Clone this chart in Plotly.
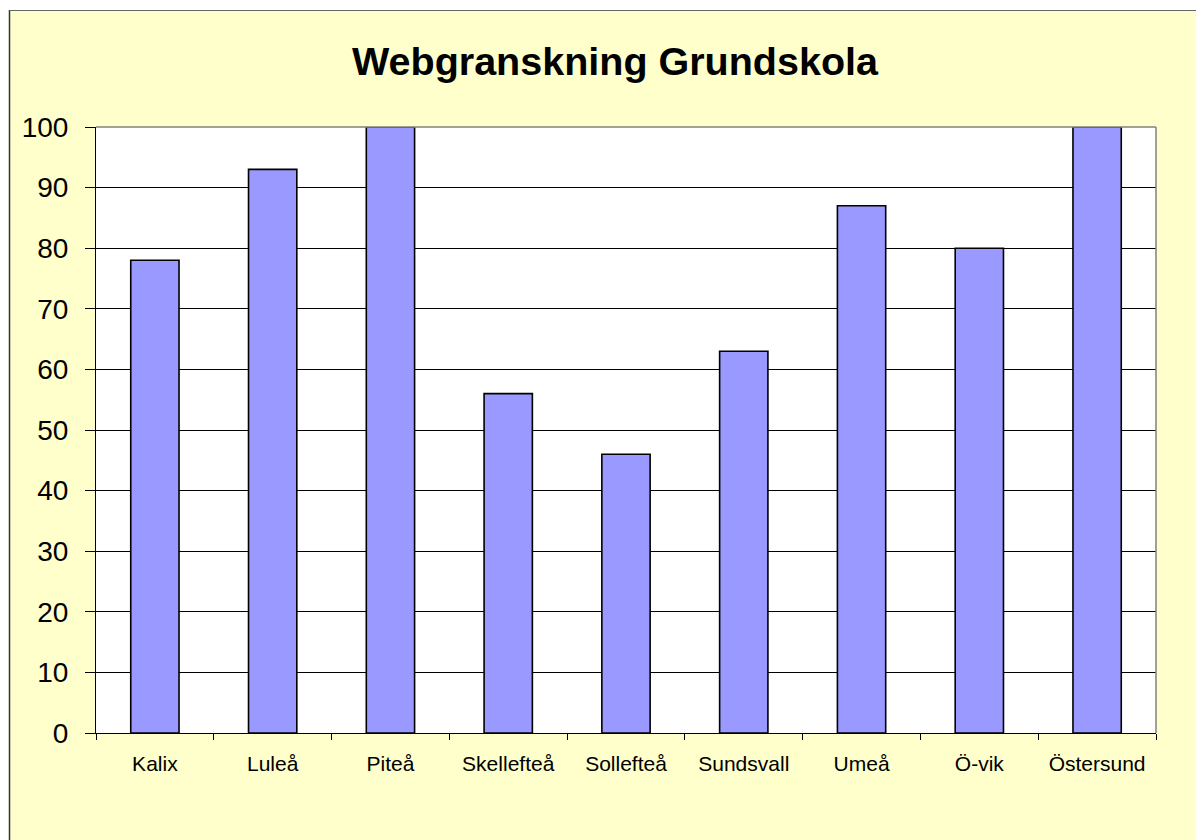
import plotly.graph_objects as go

categories = ["Kalix", "Luleå", "Piteå", "Skellefteå", "Sollefteå", "Sundsvall", "Umeå", "Ö-vik", "Östersund"]
values = [78, 93, 100, 56, 46, 63, 87, 80, 100]
y_ticks = [0, 10, 20, 30, 40, 50, 60, 70, 80, 90, 100]

# page body adds an 8px offset, so the figure is sized/positioned accordingly
OFF = 8
W, H = 1204 - OFF, 840 - OFF
L, R, T, B = 96 - OFF, 48, 127 - OFF, 107
pw, ph = W - L - R, H - T - B

def px(x):
    return (x - OFF - L) / pw

def py(y):
    return (H - B - (y - OFF)) / ph

FONT = "Arial, 'Liberation Sans', sans-serif"

fig = go.Figure(go.Bar(
    x=categories, y=values,
    marker=dict(color="#9999FF", line=dict(color="#000000", width=1.6)),
))

shapes = [
    # white strip at top-left margin
    dict(type="rect", xref="paper", yref="paper", x0=px(0), x1=px(9.5), y0=py(850), y1=py(0),
         fillcolor="white", line=dict(width=0), layer="below"),
    dict(type="rect", xref="paper", yref="paper", x0=px(0), x1=px(1210), y0=py(10), y1=py(0),
         fillcolor="white", line=dict(width=0), layer="below"),
    # chart border
    dict(type="line", xref="paper", yref="paper", x0=px(9.5), x1=px(9.5), y0=py(10), y1=py(850),
         line=dict(color="#333333", width=1.5), layer="below"),
    dict(type="line", xref="paper", yref="paper", x0=px(9.5), x1=px(1210), y0=py(10.5), y1=py(10.5),
         line=dict(color="#666666", width=1), layer="below"),
    # plot area border top/right (gray)
    dict(type="line", xref="paper", yref="paper", x0=0, x1=1, y0=1, y1=1,
         line=dict(color="#808080", width=1.5), layer="above"),
    dict(type="line", xref="paper", yref="paper", x0=1, x1=1, y0=0, y1=1,
         line=dict(color="#808080", width=1.5), layer="above"),
]

fig.update_layout(
    width=W, height=H,
    margin=dict(l=L, r=R, t=T, b=B, pad=0),
    paper_bgcolor="#FFFFCC",
    plot_bgcolor="#FFFFFF",
    bargap=0.59,
    showlegend=False,
    font=dict(family=FONT, color="#000000"),
    title=dict(
        text="<b>Webgranskning Grundskola</b>",
        font=dict(family=FONT, size=39.5, color="#000000"),
        x=(615 - OFF) / W, xref="container", xanchor="center",
        y=1 - (61 - OFF) / H, yref="container", yanchor="middle",
    ),
    shapes=shapes,
)

fig.update_xaxes(
    type="category",
    showline=True, linecolor="#000000", linewidth=1,
    ticks="outside", tickson="boundaries", ticklen=6, tickcolor="#000000", tickwidth=1,
    tickfont=dict(family=FONT, size=21, color="#000000"),
    ticklabelstandoff=12,
    showgrid=False,
)
fig.update_yaxes(
    range=[0, 100],
    tickvals=y_ticks,
    showline=True, linecolor="#000000", linewidth=1,
    ticks="outside", ticklen=10, tickcolor="#000000", tickwidth=1,
    tickfont=dict(family=FONT, size=28, color="#000000"),
    ticklabelstandoff=11,
    showgrid=True, gridcolor="#000000", gridwidth=1,
    zeroline=False,
)

fig.write_html("out.html")
